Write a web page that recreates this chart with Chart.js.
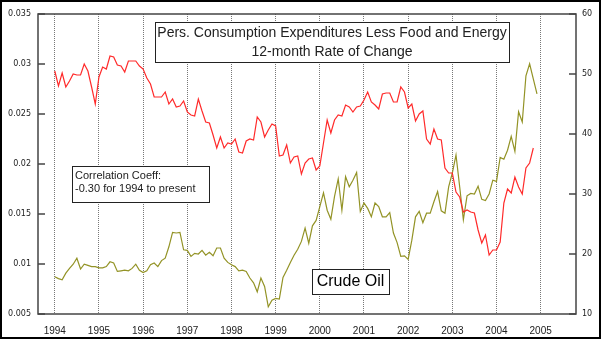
<!DOCTYPE html>
<html>
<head>
<meta charset="utf-8">
<script src="https://cdn.jsdelivr.net/npm/chart.js@4/dist/chart.umd.min.js"></script>
<style>
  html, body { margin: 0; padding: 0; background: #fff; }
  #wrap { width: 601px; height: 339px; }
</style>
</head>
<body>
<div id="wrap"><canvas id="chart" width="601" height="339"></canvas></div>
<script>
// year ticks on the x axis
const years = [1994, 1995, 1996, 1997, 1998, 1999, 2000, 2001, 2002, 2003, 2004, 2005]

// left axis ticks / right axis ticks
const leftTicks = [0.005, 0.01, 0.015, 0.02, 0.025, 0.03, 0.035]
const rightTicks = [10, 20, 30, 40, 50, 60]

// PCE less food & energy, 12-month rate of change (monthly from Jan 1994)
const pceCore = [
  0.0293, 0.0278, 0.0291, 0.0277, 0.0283, 0.0290, 0.0289, 0.0289, 0.0300, 0.0293, 0.0277, 0.0260,
  0.0287, 0.0297, 0.0295, 0.0308, 0.0307, 0.0299, 0.0298, 0.0292, 0.0303, 0.0303, 0.0303, 0.0298,
  0.0295, 0.0286, 0.0280, 0.0267, 0.0267, 0.0267, 0.0272, 0.0260, 0.0265, 0.0257, 0.0258, 0.0263,
  0.0252, 0.0249, 0.0248, 0.0265, 0.0253, 0.0242, 0.0241, 0.0229, 0.0216, 0.0227, 0.0216, 0.0221,
  0.0220, 0.0225, 0.0212, 0.0211, 0.0223, 0.0225, 0.0224, 0.0247, 0.0242, 0.0227, 0.0234, 0.0240,
  0.0238, 0.0208, 0.0209, 0.0219, 0.0201, 0.0207, 0.0208, 0.0190, 0.0201, 0.0205, 0.0206, 0.0194,
  0.0198, 0.0221, 0.0244, 0.0231, 0.0244, 0.0249, 0.0248, 0.0259, 0.0257, 0.0252, 0.0257, 0.0258,
  0.0264, 0.0272, 0.0262, 0.0259, 0.0255, 0.0270, 0.0271, 0.0271, 0.0262, 0.0262, 0.0277, 0.0272,
  0.0256, 0.0260, 0.0243, 0.0250, 0.0253, 0.0225, 0.0220, 0.0235, 0.0225, 0.0224, 0.0196, 0.0191,
  0.0191, 0.0172, 0.0167, 0.0152, 0.0154, 0.0152, 0.0151, 0.0134, 0.0121, 0.0129, 0.0109, 0.0114,
  0.0114, 0.0122, 0.0161, 0.0175, 0.0171, 0.0187, 0.0177, 0.0170, 0.0196, 0.0201, 0.0216
]

// crude oil price, $ (monthly from Jan 1994)
const crudeOil = [
  16.2, 15.9, 15.7, 16.8, 17.6, 18.3, 19.3, 17.5, 18.3, 18.1, 17.9, 17.9,
  17.7, 17.7, 17.9, 18.7, 18.5, 17.1, 17.2, 17.3, 17.2, 17.6, 18.3, 17.3,
  16.9, 17.2, 18.2, 18.5, 17.9, 18.9, 19.3, 21.2, 23.6, 23.5, 23.6, 20.7,
  20.6, 19.6, 20.1, 20.0, 20.6, 19.8, 20.3, 19.7, 21.0, 21.0, 19.3, 18.6,
  18.2, 17.9, 17.2, 17.3, 17.1, 16.0, 15.2, 13.7, 16.0, 14.6, 11.2, 12.3,
  12.6, 12.5, 16.1, 17.3, 18.6, 19.8, 20.8, 22.1, 24.3, 21.8, 24.7, 25.6,
  27.9, 30.2, 27.3, 25.8, 29.6, 32.5, 27.3, 32.9, 31.2, 32.3, 33.6, 27.1,
  28.5, 27.6, 26.2, 28.5, 27.9, 26.2, 26.2, 26.9, 23.5, 21.9, 19.6, 19.7,
  19.1, 22.3, 26.2, 27.1, 25.2, 26.8, 26.8, 28.7, 30.4, 27.2, 26.8, 31.2,
  33.5, 36.5, 31.2, 25.7, 29.7, 30.1, 30.0, 31.3, 29.1, 28.9, 30.0, 32.3,
  32.1, 36.1, 35.8, 37.3, 39.6, 37.1, 43.7, 42.0, 49.7, 51.7, 49.2, 46.7
]

const startYear = 1994
const toPoints = (arr) => arr.map((v, i) => ({ x: startYear + i / 12, y: v }))

const titleLines = ["Pers. Consumption Expenditures Less Food and Energy", "12-month Rate of Change"]
const corrLines = ["Correlation Coeff:", "-0.30 for 1994 to present"]
const oilLabel = "Crude Oil"

const decor = {
  id: "decor",
  afterDatasetsDraw(chart) {
    const ctx = chart.ctx
    const a = chart.chartArea
    const yL = chart.scales.y
    const yR = chart.scales.y1
    ctx.save()

    // plot frame
    ctx.strokeStyle = "#444"
    ctx.lineWidth = 1.5
    ctx.strokeRect(a.left, a.top, a.right - a.left, a.bottom - a.top)

    // inward tick marks
    ctx.lineWidth = 1.5
    leftTicks.forEach((v) => {
      const py = yL.getPixelForValue(v)
      ctx.beginPath(); ctx.moveTo(a.left, py); ctx.lineTo(a.left + 7, py); ctx.stroke()
    })
    rightTicks.forEach((v) => {
      const py = yR.getPixelForValue(v)
      ctx.beginPath(); ctx.moveTo(a.right, py); ctx.lineTo(a.right - 7, py); ctx.stroke()
    })

    // boxes
    const box = (x, y, w, h) => {
      ctx.fillStyle = "#fff"
      ctx.fillRect(x, y, w, h)
      ctx.strokeStyle = "#222"
      ctx.lineWidth = 1
      ctx.strokeRect(x + 0.5, y + 0.5, w, h)
    }

    box(155, 22, 354, 40)
    ctx.fillStyle = "#222"
    ctx.font = "14px 'Liberation Sans', Arial, sans-serif"
    ctx.textAlign = "center"
    ctx.textBaseline = "middle"
    ctx.fillText(titleLines[0], 332, 33)
    ctx.fillText(titleLines[1], 332, 52)

    box(72, 166, 137, 36)
    ctx.fillStyle = "#222"
    ctx.font = "11px 'Liberation Sans', Arial, sans-serif"
    ctx.textAlign = "left"
    ctx.fillText(corrLines[0], 75, 176)
    ctx.fillText(corrLines[1], 75, 189)

    box(312, 269, 77, 25)
    ctx.fillStyle = "#000"
    ctx.font = "16px 'Liberation Sans', Arial, sans-serif"
    ctx.textAlign = "center"
    ctx.fillText(oilLabel, 350.5, 282)

    ctx.restore()
  },
  afterDraw(chart) {
    const ctx = chart.ctx
    ctx.save()
    ctx.strokeStyle = "#000"
    ctx.lineWidth = 2
    ctx.strokeRect(1, 1, chart.width - 2, chart.height - 2)
    ctx.restore()
  }
}

new Chart(document.getElementById("chart"), {
  type: "line",
  data: {
    datasets: [
      {
        label: "PCE less food and energy",
        data: toPoints(pceCore),
        yAxisID: "y",
        borderColor: "#ff2a2a",
        borderWidth: 1.2,
        pointRadius: 0,
        tension: 0,
      },
      {
        label: "Crude Oil",
        data: toPoints(crudeOil),
        yAxisID: "y1",
        borderColor: "#939326",
        borderWidth: 1.2,
        pointRadius: 0,
        tension: 0,
      },
    ],
  },
  options: {
    responsive: false,
    animation: false,
    devicePixelRatio: 1,
    layout: { padding: { top: 14, left: 0, right: 0, bottom: 0 } },
    plugins: {
      legend: { display: false },
      title: { display: false },
      tooltip: { enabled: false },
    },
    scales: {
      x: {
        type: "linear",
        min: 1993.62,
        max: 2005.8,
        afterBuildTicks: (s) => { s.ticks = years.map((v) => ({ value: v })) },
        afterFit: (s) => { s.height = 25 },
        grid: { color: "#777", lineWidth: 1, drawTicks: false },
        border: { display: false, dash: [1, 1] },
        ticks: {
          padding: 11,
          maxRotation: 0,
          autoSkip: false,
          color: "#222",
          font: { family: "'Liberation Sans', Arial, sans-serif", size: 10 },
          callback: (v) => String(v),
        },
      },
      y: {
        position: "left",
        min: 0.005,
        max: 0.035,
        afterBuildTicks: (s) => { s.ticks = leftTicks.map((v) => ({ value: v })) },
        afterFit: (s) => { s.width = 38 },
        grid: { display: false, drawTicks: false },
        border: { display: false },
        ticks: {
          padding: 7,
          color: "#222",
          font: { family: "'DejaVu Sans', sans-serif", size: 8 },
          callback: (v) => String(+v.toFixed(3)),
        },
      },
      y1: {
        position: "right",
        min: 10,
        max: 60,
        afterBuildTicks: (s) => { s.ticks = rightTicks.map((v) => ({ value: v })) },
        afterFit: (s) => { s.width = 25 },
        grid: { display: false, drawTicks: false },
        border: { display: false },
        ticks: {
          padding: 6,
          color: "#222",
          font: { family: "'DejaVu Sans', sans-serif", size: 8 },
          callback: (v) => String(v),
        },
      },
    },
  },
  plugins: [decor],
})
</script>
</body>
</html>
